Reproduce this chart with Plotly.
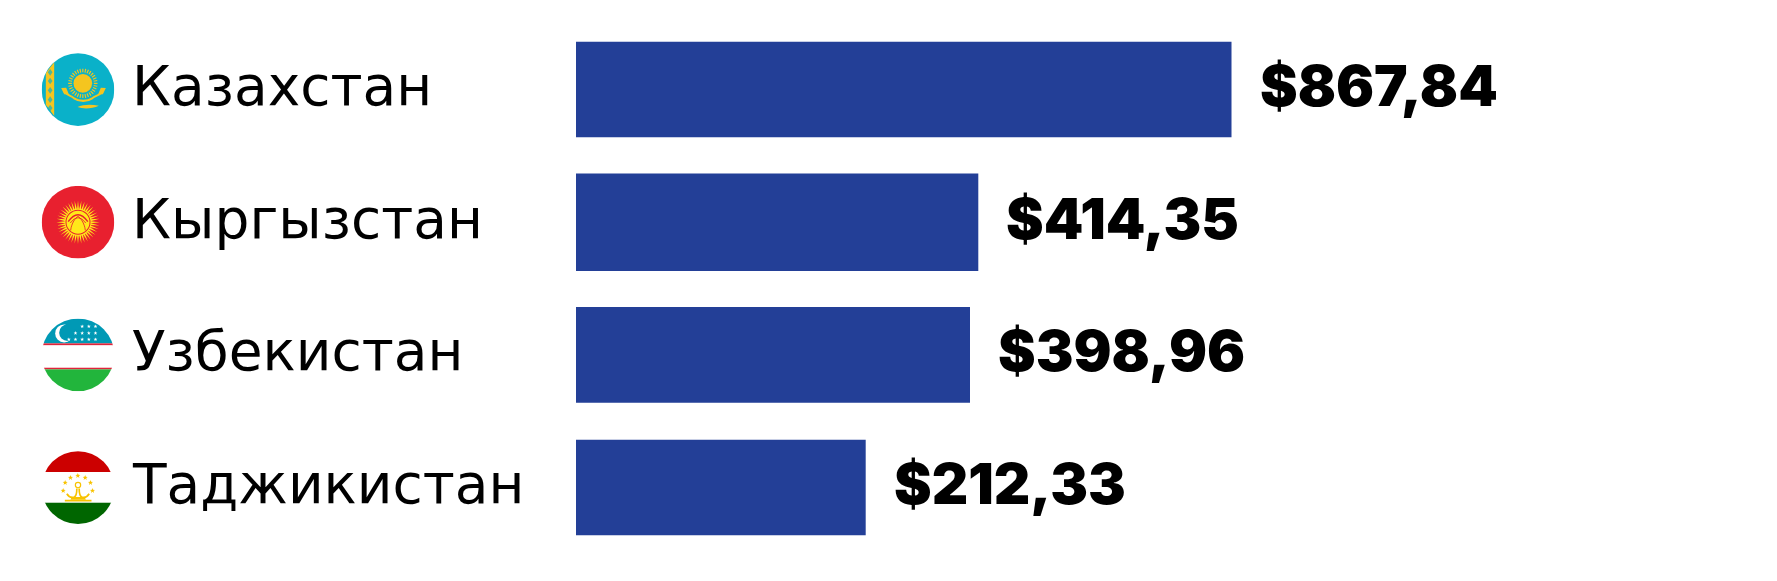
import base64, math
import plotly.graph_objects as go

countries = ["Казахстан", "Кыргызстан", "Узбекистан", "Таджикистан"]
value_labels = ["$867,84", "$414,35", "$398,96", "$212,33"]
# Drawn bar lengths (the drawn bars are not proportional to their labels)
bar_lengths = [655.5, 402.3, 394, 289.7]

PAGE = 8  # default body margin of the page
W, H = 1777 - 2 * PAGE, 581 - 2 * PAGE
BAR_COLOR = "#233F97"
LABEL_FONT = dict(family="DejaVu Sans", size=55, color="#000000")
VALUE_FONT = dict(family="Inter", size=56.5, color="#000000", weight=900)


def star(cx, cy, r, fill):
    pts = []
    for i in range(10):
        a = -math.pi / 2 + i * math.pi / 5
        rr = r if i % 2 == 0 else r * 0.42
        pts.append(f"{cx + rr * math.cos(a):.1f},{cy + rr * math.sin(a):.1f}")
    return f'<polygon points="{" ".join(pts)}" fill="{fill}"/>'


def rays(cx, cy, r0, r1, n, fill, half=0.6):
    out = []
    for i in range(n):
        a = 2 * math.pi * i / n
        da = math.pi / n * half
        p = [(r0, a - da), (r1, a), (r0, a + da)]
        s = " ".join(f"{cx + r * math.cos(t):.1f},{cy + r * math.sin(t):.1f}" for r, t in p)
        out.append(f'<polygon points="{s}" fill="{fill}"/>')
    return "".join(out)


def bars_ring(cx, cy, r0, r1, n, stroke, width):
    out = []
    for i in range(n):
        a = 2 * math.pi * i / n
        out.append(
            f'<line x1="{cx + r0 * math.cos(a):.1f}" y1="{cy + r0 * math.sin(a):.1f}" '
            f'x2="{cx + r1 * math.cos(a):.1f}" y2="{cy + r1 * math.sin(a):.1f}" '
            f'stroke="{stroke}" stroke-width="{width}"/>'
        )
    return "".join(out)


def kz():
    g = "#F4C51F"
    t = "#0AB1C9"
    s = f'<rect width="219" height="219" fill="{t}"/>'
    s += f'<path d="M13 60 L38 28 V188 L13 155 Z" fill="{g}"/>'
    for y in (58, 84, 112, 140, 165):
        s += f'<path d="M26 {y-10} L33 {y} L26 {y+10} L19 {y} Z" fill="{t}" opacity="0.7"/>'
    s += f'<circle cx="124" cy="91" r="28" fill="{g}"/>'
    s += bars_ring(124, 91, 33, 44, 32, g, 3.5)
    s += f'<path d="M66 112 C74 128 88 126 98 136 C112 146 138 146 152 136 C162 126 178 128 186 112" fill="none" stroke="{g}" stroke-width="6"/>'
    s += f'<path d="M59 105 L74 104 L82 124 L68 124 Z M193 105 L178 104 L170 124 L184 124 Z" fill="{g}"/>'
    s += f'<path d="M108 162 C125 154 150 154 172 158 C150 168 125 168 108 162 Z" fill="{g}"/>'
    return s


def kg():
    y = "#FFE81A"
    r = "#E8202F"
    s = f'<rect width="219" height="219" fill="{r}"/>'
    s += rays(109.5, 109.5, 38, 65, 40, y, 0.95)
    s += f'<circle cx="109.5" cy="109.5" r="40" fill="{y}"/>'
    s += f'<circle cx="109.5" cy="109.5" r="36" fill="{y}" stroke="{r}" stroke-width="3"/>'
    for dx in (-22, 22):
        s += f'<path d="M{109.5+dx} 134 C{109.5+dx*0.9} 112 {109.5+dx*0.3} 95 109.5 92" fill="none" stroke="{r}" stroke-width="2.5"/>'
    s += f'<path d="M80 108 Q109.5 66 139 108" fill="none" stroke="{r}" stroke-width="4"/>'
    s += f'<path d="M86 112 Q109.5 80 133 112" fill="none" stroke="{r}" stroke-width="2.5"/>'
    return s


def uz():
    s = '<rect width="219" height="75" fill="#0099B5"/>'
    s += '<rect y="75" width="219" height="6" fill="#E0243A"/>'
    s += '<rect y="81" width="219" height="67" fill="#FFFFFF"/>'
    s += '<rect y="148" width="219" height="5" fill="#E0243A"/>'
    s += '<rect y="153" width="219" height="66" fill="#22B53C"/>'
    s += '<circle cx="68" cy="45" r="27" fill="#FFFFFF"/><circle cx="78" cy="43" r="25" fill="#0099B5"/>'
    for row, xs in ((24, (122, 142, 162)), (44, (102, 122, 142, 162)), (63, (82, 102, 122, 142, 162))):
        for x in xs:
            s += star(x, row, 6, "#FFFFFF")
    return s


def tj():
    g = "#F8C300"
    s = '<rect width="219" height="63" fill="#CC0000"/>'
    s += '<rect y="63" width="219" height="92" fill="#FFFFFF"/>'
    s += '<rect y="155" width="219" height="64" fill="#006600"/>'
    for x, y in ((65, 119), (71, 95), (87, 80), (109, 74), (131, 80), (147, 95), (153, 119)):
        s += star(x, y, 8, g)
    s += f'<path d="M70 146 H150 V151 H70 Z" fill="{g}"/>'
    s += f'<path d="M76 128 Q84 142 98 138 Q106 134 106 112 M143 128 Q135 142 121 138 Q113 134 113 112" fill="none" stroke="{g}" stroke-width="5"/>'
    s += f'<path d="M90 138 H130 L133 146 H87 Z" fill="{g}"/>'
    s += f'<circle cx="109.5" cy="102" r="8" fill="none" stroke="{g}" stroke-width="3.5"/>'
    return s


def uri(body):
    svg = (
        '<svg xmlns="http://www.w3.org/2000/svg" width="73" height="73" viewBox="0 0 219 219">'
        '<defs><clipPath id="c"><circle cx="109.5" cy="109.5" r="109"/></clipPath></defs>'
        f'<g clip-path="url(#c)">{body}</g></svg>'
    )
    return "data:image/svg+xml;base64," + base64.b64encode(svg.encode()).decode()


flags = [kz(), kg(), uz(), tj()]

fig = go.Figure(
    go.Bar(
        x=bar_lengths,
        y=countries,
        orientation="h",
        width=[0.72, 0.735, 0.72, 0.72],
        marker=dict(color=BAR_COLOR, line=dict(width=0)),
        hoverinfo="skip",
    )
)

for name, label, length, body in zip(countries, value_labels, bar_lengths, flags):
    fig.add_annotation(
        x=0, xref="paper", xanchor="left", xshift=130 - PAGE, y=name, yref="y", yshift=3.5,
        text=name, showarrow=False, font=LABEL_FONT,
    )
    fig.add_annotation(
        x=length, xref="x", xanchor="left", xshift=26, y=name, yref="y", yshift=4,
        text=label, showarrow=False, font=VALUE_FONT,
    )
    fig.add_layout_image(
        source=uri(body), xref="paper", yref="y", x=(41.5 - PAGE) / W, y=name, yanchor="middle", xanchor="left",
        sizex=73 / W, sizey=0.5503, sizing="stretch", layer="above",
    )

fig.update_layout(
    width=W, height=H,
    margin=dict(l=0, r=0, t=0, b=0),
    paper_bgcolor="#FFFFFF", plot_bgcolor="#FFFFFF",
    showlegend=False,
    xaxis=dict(domain=[(576 - PAGE) / W, 1], range=[0, 1777 - PAGE - 576], visible=False),
    yaxis=dict(
        domain=[1 - (553.9 - PAGE) / H, 1 - (23.2 - PAGE) / H], type="category", categoryorder="array",
        categoryarray=countries, autorange="reversed", visible=False,
    ),
)
fig.write_html("out.html", config=dict(displayModeBar=False))
